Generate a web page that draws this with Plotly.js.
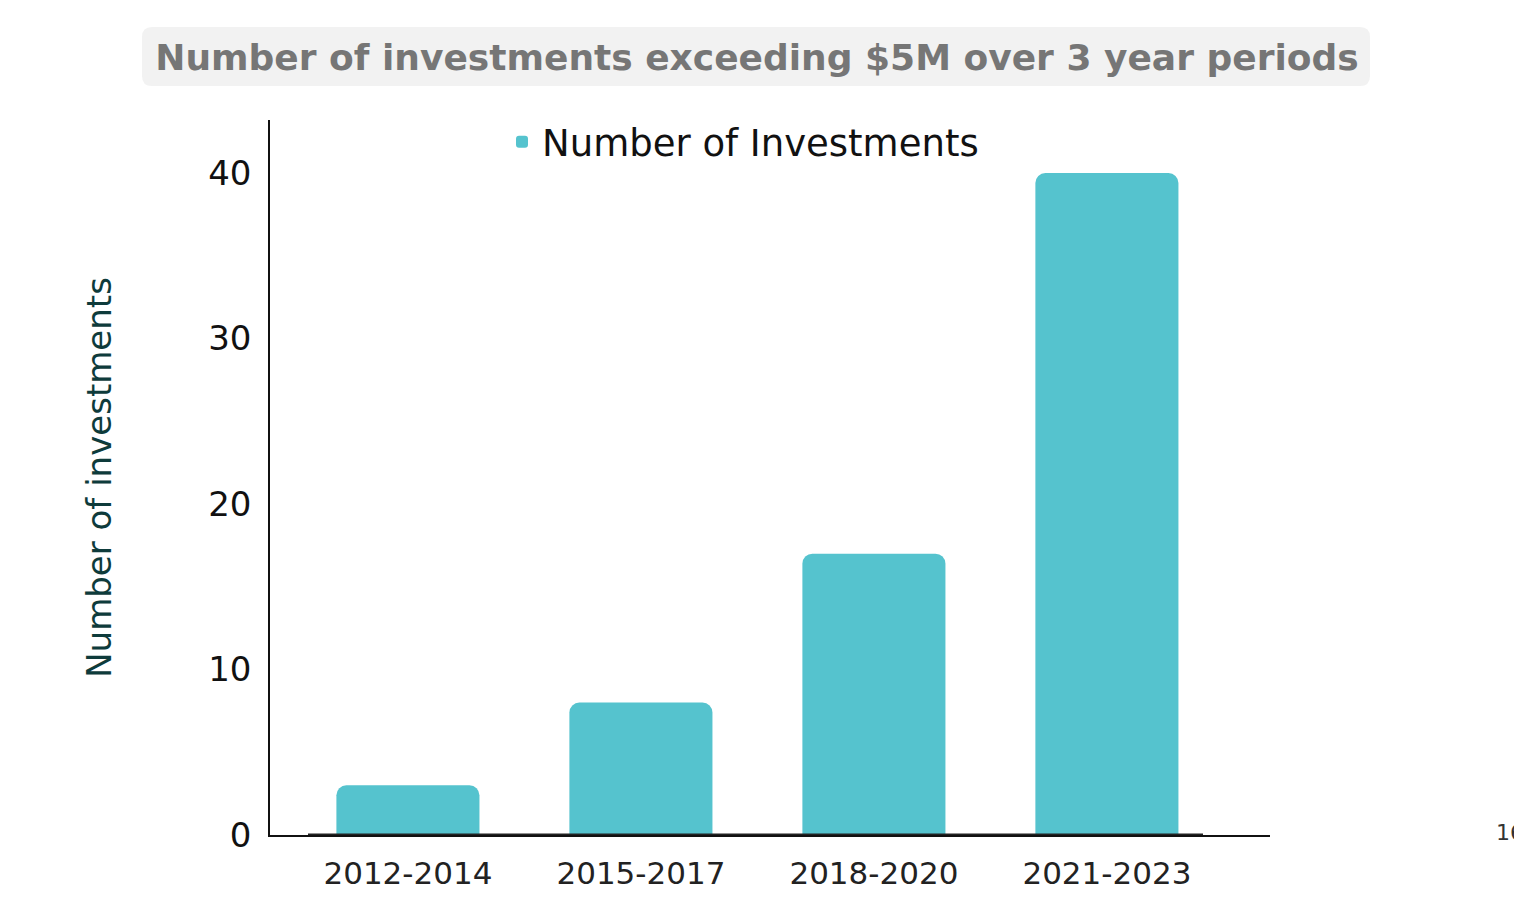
<!DOCTYPE html>
<html>
<head>
<meta charset="utf-8">
<script src="https://cdn.plot.ly/plotly-3.0.1.min.js"></script>
<style>html,body{margin:0;padding:0;background:#fff;}#chart{width:1514px;height:918px;}</style>
</head>
<body>
<div id="chart"></div>
<script>
const categories = ["2012-2014", "2015-2017", "2018-2020", "2021-2023"];
const investments = [3, 8, 17, 40];
const seriesName = "Number of Investments";
const yTicks = [0, 10, 20, 30, 40];

const FONT = "DejaVu Sans, sans-serif";

const trace = {
  type: "bar",
  x: categories,
  y: investments,
  name: seriesName,
  marker: { color: "#55C3CE", cornerradius: 10 },
  showlegend: true,
  hoverinfo: "x+y"
};

const layout = {
  width: 1514,
  height: 918,
  margin: { l: 270, r: 244, t: 120, b: 83 },
  paper_bgcolor: "#ffffff",
  plot_bgcolor: "#ffffff",
  font: { family: FONT, color: "#111111" },
  title: {
    text: "<b>Number of investments exceeding $5M over 3 year periods</b>",
    font: { family: FONT, size: 36, color: "#767676" },
    x: 0.5, xref: "container", xanchor: "center",
    y: 1 - 57 / 918, yref: "container", yanchor: "middle"
  },
  bargap: 0.386,
  xaxis: {
    type: "category",
    range: [-0.592, 3.70],
    showline: true, linecolor: "#111111", linewidth: 1.5,
    showgrid: false, zeroline: false, ticks: "",
    tickfont: { family: FONT, size: 31, color: "#222222" },
    ticklabelstandoff: 10,
    fixedrange: true
  },
  yaxis: {
    range: [0, 43.2],
    tickvals: yTicks,
    showline: true, linecolor: "#111111", linewidth: 1.5,
    showgrid: false, zeroline: false, ticks: "",
    tickfont: { family: FONT, size: 34, color: "#111111" },
    ticklabelstandoff: 10,
    title: {
      text: "Number of investments",
      font: { family: FONT, size: 34, color: "#0E3B3B" },
      standoff: 86
    },
    automargin: false,
    fixedrange: true
  },
  legend: {
    orientation: "h",
    x: 0.232, xanchor: "left",
    y: 0.969, yanchor: "middle",
    font: { family: FONT, size: 37, color: "#111111" },
    bgcolor: "rgba(0,0,0,0)",
    itemwidth: 30,
    tracegroupgap: 0
  },
  shapes: [
    {
      type: "path", xref: "paper", yref: "paper", layer: "below",
      path: "M -0.118,1.130 L 1.090,1.130 Q 1.100,1.130 1.100,1.116 L 1.100,1.0616 Q 1.100,1.0476 1.090,1.0476 L -0.118,1.0476 Q -0.128,1.0476 -0.128,1.0616 L -0.128,1.116 Q -0.128,1.130 -0.118,1.130 Z",
      fillcolor: "#F2F2F2", line: { width: 0 }
    },
    {
      type: "line", xref: "paper", yref: "y",
      x0: 0.038, x1: 0.933, y0: 0, y1: 0,
      line: { color: "#222222", width: 3 }
    }
  ],
  annotations: [
    {
      text: "16", xref: "paper", yref: "paper",
      x: (1494 - 270) / 1000, y: (835 - 832) / 715,
      xanchor: "left", yanchor: "middle", showarrow: false,
      font: { family: FONT, size: 22, color: "#333333" }
    }
  ]
};

Plotly.newPlot("chart", [trace], layout, { displayModeBar: false });
</script>
</body>
</html>
